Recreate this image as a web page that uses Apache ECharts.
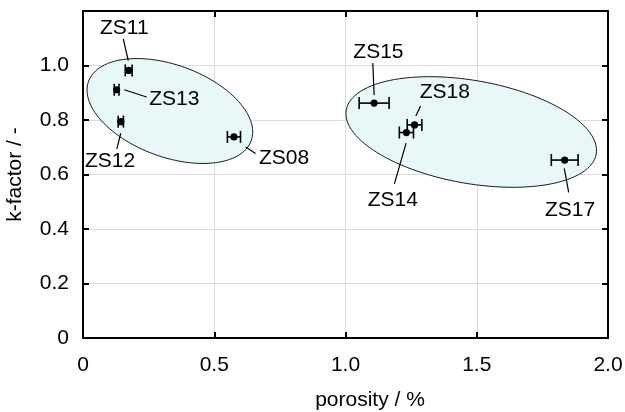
<!DOCTYPE html>
<html>
<head>
<meta charset="utf-8">
<script src="https://cdn.jsdelivr.net/npm/echarts@6/dist/echarts.min.js"></script>
<style>html,body{margin:0;padding:0;background:#fff;}#c{width:625px;height:412px;}</style>
</head>
<body>
<div id="c"></div>
<script>
// ---- data ----
var sampleNames = ['ZS11', 'ZS13', 'ZS12', 'ZS08', 'ZS15', 'ZS18', 'ZS14', 'ZS17'];
var porosity    = [0.174, 0.128, 0.144, 0.575, 1.109, 1.263, 1.232, 1.835];
var kFactor     = [0.982, 0.911, 0.794, 0.738, 0.862, 0.782, 0.754, 0.653];
var porosityErr = [0.013, 0.009, 0.010, 0.025, 0.057, 0.028, 0.027, 0.051];
var xTicks = [0, 0.5, 1.0, 1.5, 2.0];
var yTicks = [0, 0.2, 0.4, 0.6, 0.8, 1.0];

// group ellipses: center in data units
var ellipseCenterX = [0.331, 1.479];
var ellipseCenterY = [0.833, 0.756];

// ---- layout / style (pixels) ----
var ellipseShape = [ {a: 86.6, b: 46, angle: 20.1}, {a: 126.9, b: 51.5, angle: 10} ];
// label: text offset (dx,dy), align, leader line start/end offsets
var labelLayout = [
  {dx: -4.4, dy: -42.4, align: 'center', l: [-5.4, -31.4, -0.4, -9.7]},
  {dx: 32.6, dy: 9,     align: 'left',   l: [7.6, 0, 30, 7.3]},
  {dx: -10.7, dy: 39.3, align: 'center', l: [0, 11.6, -4, 27.3]},
  {dx: 25,  dy: 21.6,   align: 'left',   l: [11.7, 10, 21.7, 16.6]},
  {dx: 4.3, dy: -50.6,  align: 'center', l: [-1.3, -40, 0, -8]},
  {dx: 30.3, dy: -32.7, align: 'center', l: [6, -19, 1.3, -9]},
  {dx: -13.6, dy: 67.3, align: 'center', l: [-0.3, 10.6, -12, 51.3]},
  {dx: 5.3, dy: 50,     align: 'center', l: [-0.4, 8.3, 4, 32.3]}
];
var FONT = 'Liberation Sans, Arial, Helvetica, sans-serif';
var FS = 21;

var pointData = sampleNames.map(function (n, i) {
  return [porosity[i], kFactor[i], porosityErr[i], i];
});
var ellipseData = ellipseCenterX.map(function (x, i) { return [x, ellipseCenterY[i], i]; });

function fmt(v) { return v === 0 ? '0' : v.toFixed(1); }

var chart = echarts.init(document.getElementById('c'), null, {renderer: 'canvas'});
var axisLine = {show: true, onZero: false, lineStyle: {color: '#000', width: 2}};
var axisTick = {show: true, inside: true, length: 6, lineStyle: {color: '#000', width: 2}};
var splitLine = {show: true, lineStyle: {color: '#dcdcdc', width: 1}};

chart.setOption({
  animation: false,
  backgroundColor: '#fff',
  grid: {left: 83, right: 17, top: 11, bottom: 74, containLabel: false, outerBoundsMode: 'none'},
  xAxis: [{
    type: 'value', min: 0, max: 2, interval: 0.5,
    name: 'porosity / %', nameLocation: 'middle', nameGap: 52,
    nameTextStyle: {fontFamily: FONT, fontSize: FS, color: '#000', padding: [0, 0, 0, 49]},
    axisLine: axisLine, axisTick: axisTick, splitLine: splitLine,
    axisLabel: {fontFamily: FONT, fontSize: FS, color: '#000', margin: 17,
      formatter: function (v) { return xTicks.indexOf(v) >= 0 ? fmt(v) : ''; }}
  }, {
    type: 'value', min: 0, max: 2, interval: 0.5, position: 'top',
    axisLine: axisLine, axisTick: axisTick, splitLine: {show: false}, axisLabel: {show: false}
  }],
  yAxis: [{
    type: 'value', min: 0, max: 1.2, interval: 0.2,
    name: 'k-factor / -', nameLocation: 'middle', nameGap: 57, nameRotate: 90,
    nameTextStyle: {fontFamily: FONT, fontSize: FS, color: '#000'},
    axisLine: axisLine, axisTick: axisTick, splitLine: splitLine,
    axisLabel: {fontFamily: FONT, fontSize: FS, color: '#000', margin: 14,
      formatter: function (v) {
        for (var i = 0; i < yTicks.length; i++) if (Math.abs(yTicks[i] - v) < 1e-9) return fmt(yTicks[i]);
        return '';
      }}
  }, {
    type: 'value', min: 0, max: 1.2, interval: 0.2, position: 'right',
    axisLine: axisLine, axisTick: axisTick, splitLine: {show: false}, axisLabel: {show: false}
  }],
  series: [{
    type: 'custom', z: 1, clip: true,
    data: ellipseData,
    renderItem: function (params, api) {
      var c = api.coord([api.value(0), api.value(1)]);
      var s = ellipseShape[api.value(2)];
      var th = s.angle * Math.PI / 180;
      var pts = [];
      for (var k = 0; k < 120; k++) {
        var t = k / 120 * Math.PI * 2;
        var ca = s.a * Math.cos(t), sb = s.b * Math.sin(t);
        pts.push([c[0] + ca * Math.cos(th) - sb * Math.sin(th), c[1] + ca * Math.sin(th) + sb * Math.cos(th)]);
      }
      return {type: 'polygon', shape: {points: pts},
        style: {fill: '#e8f8f8', stroke: '#1a1a1a', lineWidth: 1}};
    }
  }, {
    type: 'custom', z: 5, clip: false,
    data: pointData,
    renderItem: function (params, api) {
      var x = api.value(0), y = api.value(1), e = api.value(2), idx = api.value(3);
      var p = api.coord([x, y]);
      var pl = api.coord([x - e, y]);
      var pr = api.coord([x + e, y]);
      var L = labelLayout[idx];
      var cap = 6;
      var st = {stroke: '#000', lineWidth: 1.6};
      return {type: 'group', children: [
        {type: 'line', shape: {x1: pl[0], y1: p[1], x2: pr[0], y2: p[1]}, style: st},
        {type: 'line', shape: {x1: pl[0], y1: p[1] - cap, x2: pl[0], y2: p[1] + cap}, style: st},
        {type: 'line', shape: {x1: pr[0], y1: p[1] - cap, x2: pr[0], y2: p[1] + cap}, style: st},
        {type: 'circle', shape: {cx: p[0], cy: p[1], r: 3.6}, style: {fill: '#000'}},
        {type: 'line', shape: {x1: p[0] + L.l[0], y1: p[1] + L.l[1], x2: p[0] + L.l[2], y2: p[1] + L.l[3]},
          style: {stroke: '#000', lineWidth: 1.2}},
        {type: 'text', x: p[0] + L.dx, y: p[1] + L.dy,
          style: {text: sampleNames[idx], fill: '#000', font: FS + 'px ' + FONT,
            align: L.align, verticalAlign: 'middle'}}
      ]};
    }
  }]
});
</script>
</body>
</html>
